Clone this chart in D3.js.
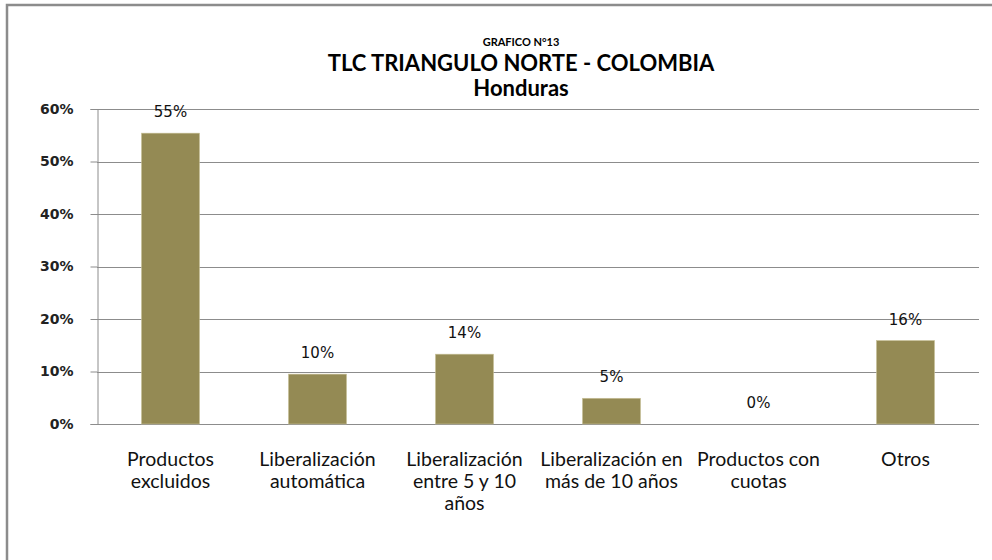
<!DOCTYPE html>
<html>
<head>
<meta charset="utf-8">
<script src="https://cdn.jsdelivr.net/npm/d3@7"></script>
<style>
  body { margin: 0; background: #fff; }
</style>
</head>
<body>
<svg width="992" height="560"></svg>
<script>
// data
let categories = [
    ["Productos", "excluidos"],
    ["Liberalización", "automática"],
    ["Liberalización", "entre 5 y 10", "años"],
    ["Liberalización en", "más de 10 años"],
    ["Productos con", "cuotas"],
    ["Otros"]
];
let values = [0.554, 0.095, 0.133, 0.049, 0.0, 0.159];
let valueLabels = ["55%", "10%", "14%", "5%", "0%", "16%"];
let yTicks = [0, 0.1, 0.2, 0.3, 0.4, 0.5, 0.6];

let svg = d3.select("svg"),
    width = +svg.attr("width"),
    height = +svg.attr("height");

let margin = { left: 97, right: 13, top: 109, bottom: 136 };

// frame (only top and left edges are visible in the picture)
svg.append("path")
    .attr("d", "M7,560 L7,5 L992,5")
    .attr("fill", "none")
    .attr("stroke", "#8c8c8c")
    .attr("stroke-width", 2.5);

// titles
let titleX = 521;
svg.append("text")
    .attr("x", titleX).attr("y", 46)
    .attr("text-anchor", "middle")
    .style("font-family", "Lato, 'Open Sans', sans-serif")
    .style("font-weight", "bold")
    .style("font-size", "11px")
    .text("GRAFICO N°13");

svg.append("text")
    .attr("x", titleX).attr("y", 71)
    .attr("text-anchor", "middle")
    .style("font-family", "Lato, 'Open Sans', sans-serif")
    .style("font-weight", "bold")
    .style("font-size", "22px")
    .text("TLC TRIANGULO NORTE - COLOMBIA");

svg.append("text")
    .attr("x", titleX).attr("y", 96)
    .attr("text-anchor", "middle")
    .style("font-family", "Lato, 'Open Sans', sans-serif")
    .style("font-weight", "bold")
    .style("font-size", "22px")
    .text("Honduras");

// scales
let x = d3.scaleBand()
    .domain(d3.range(categories.length))
    .range([margin.left, width - margin.right])
    .paddingInner(0.605)
    .paddingOuter(0.3025);

let y = d3.scaleLinear()
    .domain([0, 0.6])
    .range([height - margin.bottom, margin.top]);

// gridlines
svg.append("g")
    .selectAll("line")
    .data(yTicks)
    .enter()
    .append("line")
    .attr("x1", margin.left)
    .attr("x2", width - margin.right)
    .attr("y1", d => Math.round(y(d)) + 0.5)
    .attr("y2", d => Math.round(y(d)) + 0.5)
    .attr("stroke", "#8c8c8c")
    .attr("stroke-width", 1);

// y axis
let yAxis = svg.append("g")
    .attr("transform", `translate(${margin.left + 0.5},0)`)
    .call(d3.axisLeft(y).tickValues(yTicks).tickFormat(d3.format(".0%")).tickSize(7).tickPadding(17));

yAxis.select(".domain").attr("stroke", "#8c8c8c");
yAxis.selectAll(".tick line").attr("stroke", "#8c8c8c");
yAxis.selectAll(".tick text")
    .style("font-family", "Verdana, 'DejaVu Sans', sans-serif")
    .style("font-weight", "bold")
    .style("font-size", "14px")
    .attr("fill", "#222");

// bars
svg.append("g")
    .selectAll("rect")
    .data(values)
    .enter()
    .append("rect")
    .attr("x", (d, i) => x(i))
    .attr("y", d => y(d))
    .attr("width", x.bandwidth())
    .attr("height", d => y(0) - y(d))
    .attr("fill", "#948a54")
    .attr("stroke", "#c9c29a")
    .attr("stroke-width", 0.6);

// value labels
svg.append("g")
    .selectAll("text")
    .data(values)
    .enter()
    .append("text")
    .attr("x", (d, i) => x(i) + x.bandwidth() / 2)
    .attr("y", d => y(d) - 16)
    .attr("text-anchor", "middle")
    .style("font-family", "Verdana, 'DejaVu Sans', sans-serif")
    .style("font-size", "15px")
    .attr("fill", "#111")
    .text((d, i) => valueLabels[i]);

// category labels
let catG = svg.append("g")
    .selectAll("text")
    .data(categories)
    .enter()
    .append("text")
    .attr("x", (d, i) => x(i) + x.bandwidth() / 2)
    .attr("y", 466)
    .attr("text-anchor", "middle")
    .style("font-family", "Lato, 'Open Sans', sans-serif")
    .style("font-size", "19.5px")
    .attr("fill", "#111");

catG.selectAll("tspan")
    .data(d => d)
    .enter()
    .append("tspan")
    .attr("x", function () { return d3.select(this.parentNode).attr("x"); })
    .attr("dy", (d, i) => i === 0 ? 0 : 22)
    .text(d => d);
</script>
</body>
</html>
